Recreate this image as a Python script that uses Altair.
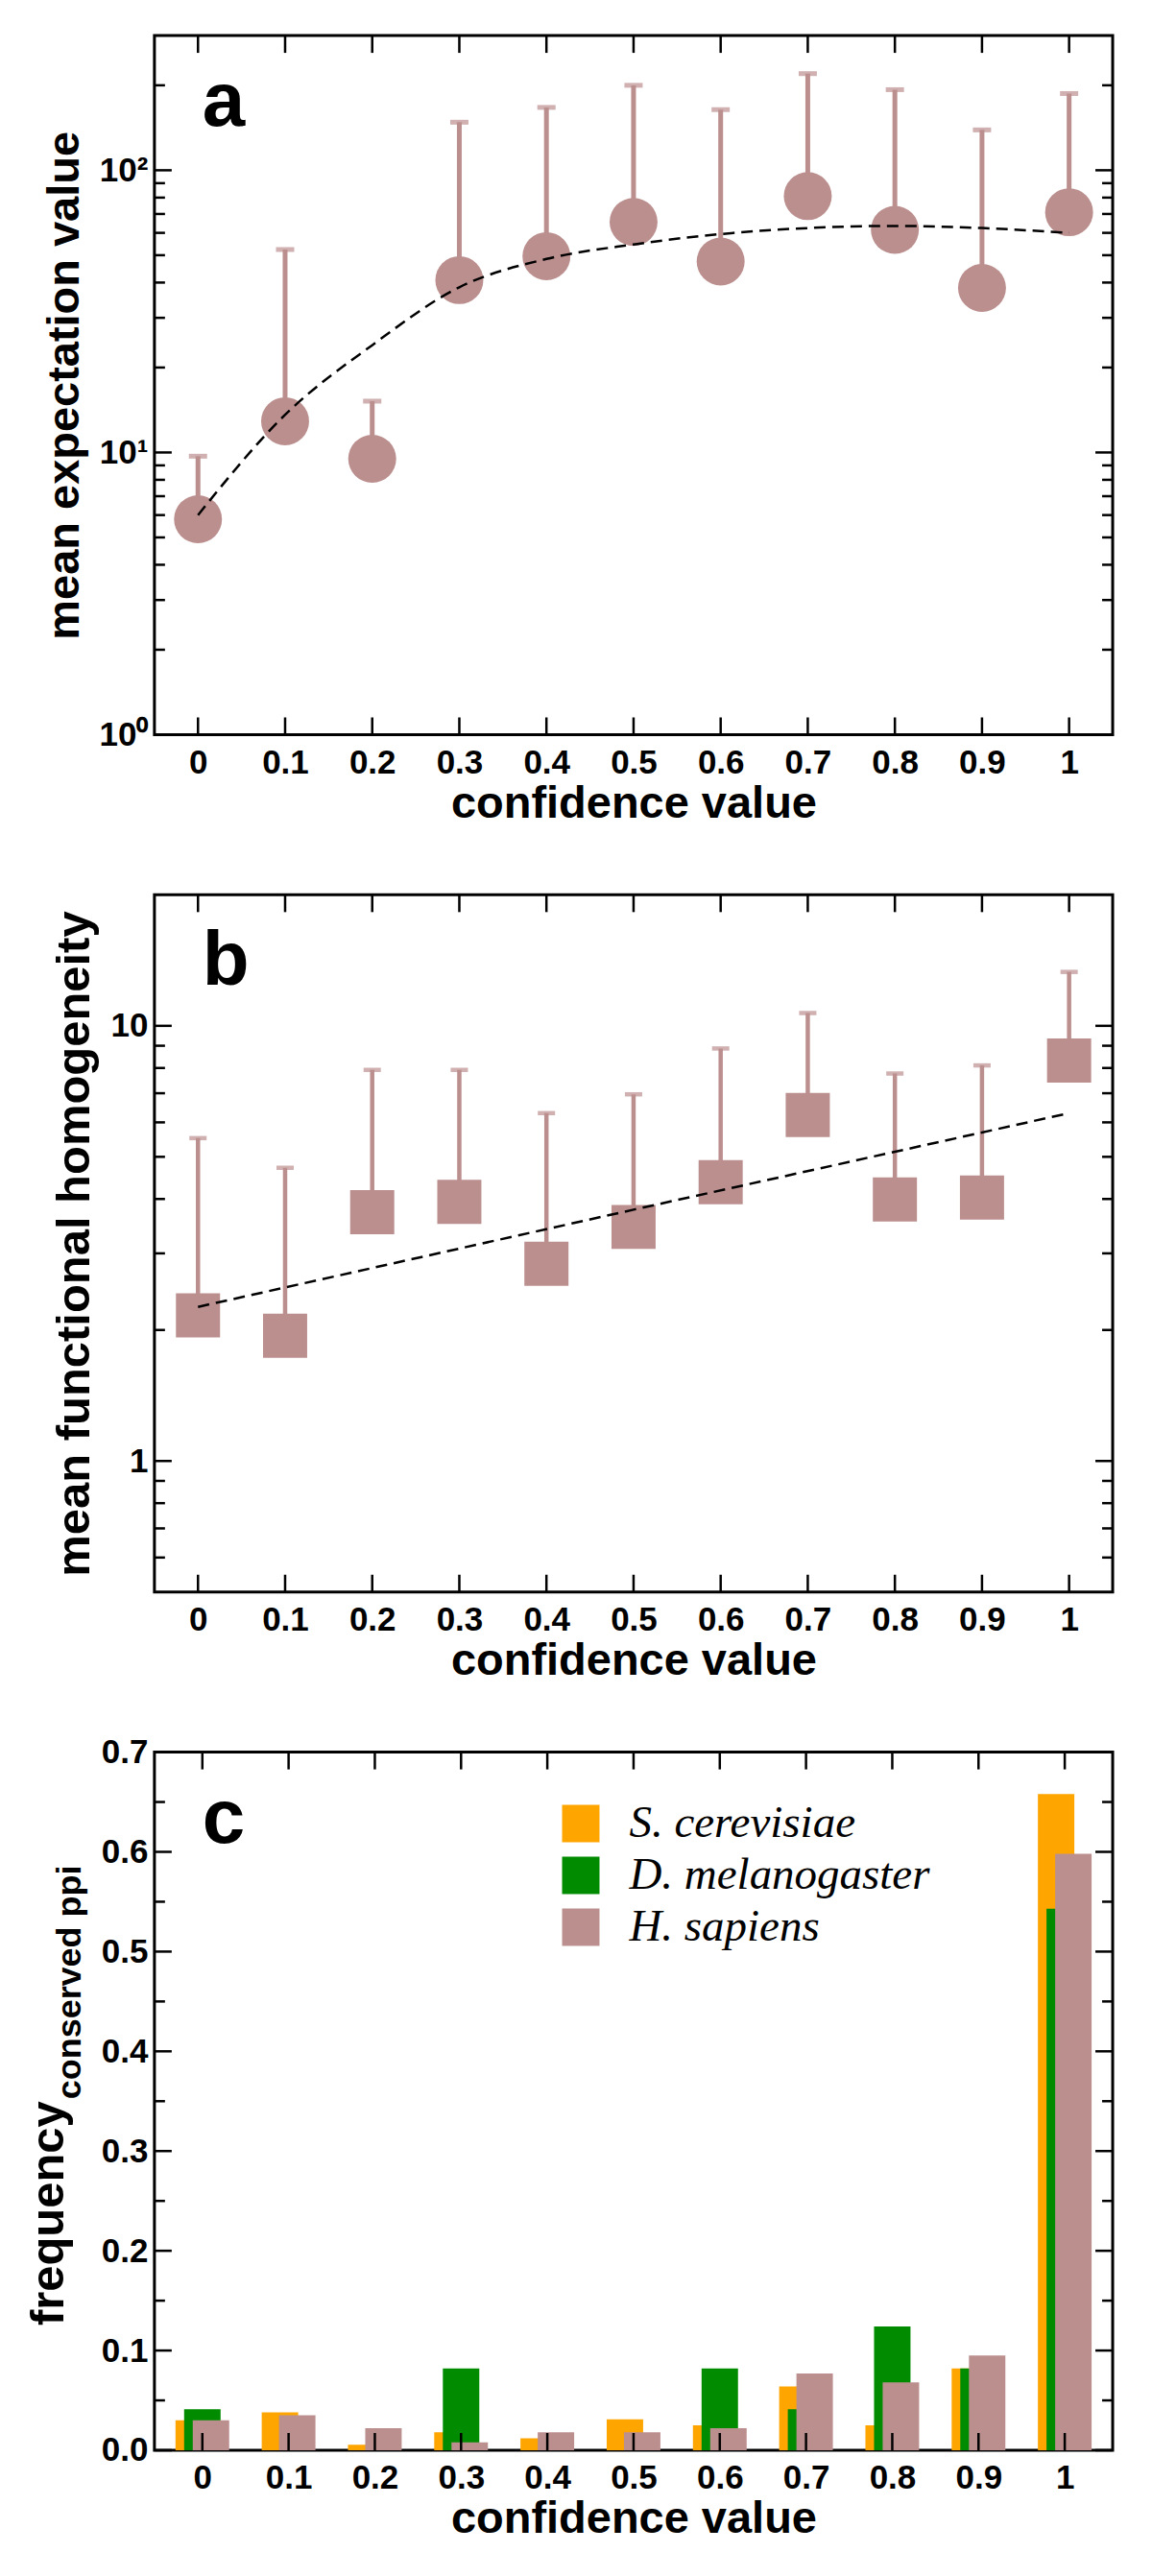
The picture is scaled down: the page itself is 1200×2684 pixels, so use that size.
import altair as alt
import pandas as pd

# ---------------- data ----------------
conf = [0.0, 0.1, 0.2, 0.3, 0.4, 0.5, 0.6, 0.7, 0.8, 0.9, 1.0]

# panel a
mean_a = [5.8, 12.9, 9.5, 40.8, 49.6, 65.6, 47.5, 81.0, 61.5, 38.3, 71.0]
upper_a = [9.7, 52.4, 15.2, 148.0, 167.0, 200.0, 164.0, 220.0, 193.0, 139.0, 187.0]
fit_a = [6.0, 13.6, 24.0, 38.5, 48.5, 54.6, 59.4, 62.4, 63.5, 62.4, 60.0]

# panel b
mean_b = [2.16, 1.94, 3.73, 3.94, 2.84, 3.45, 4.37, 6.24, 3.99, 4.03, 8.32]
upper_b = [5.52, 4.72, 7.92, 7.92, 6.3, 6.96, 8.87, 10.7, 7.77, 8.11, 13.3]
fit_b_x = [0.0, 0.5, 1.0]
fit_b = [2.26, 3.78, 6.3]

# panel c
species = ["S. cerevisiae", "D. melanogaster", "H. sapiens"]
freq_s = [0.030, 0.038, 0.0055, 0.018, 0.012, 0.031, 0.025, 0.064, 0.025, 0.082, 0.658]
freq_d = [0.041, 0.0, 0.0, 0.082, 0.0, 0.0, 0.082, 0.041, 0.124, 0.082, 0.543]
freq_h = [0.030, 0.035, 0.022, 0.008, 0.018, 0.018, 0.022, 0.077, 0.068, 0.095, 0.598]

# ticks
x_major = conf
a_major = [1, 10, 100]
a_minor = [2, 3, 4, 5, 6, 7, 8, 9, 20, 30, 40, 50, 60, 70, 80, 90, 200]
b_major = [1, 10]
b_minor = [0.6, 0.7, 0.8, 0.9, 2, 3, 4, 5, 6, 7, 8, 9]
c_major = [0.0, 0.1, 0.2, 0.3, 0.4, 0.5, 0.6, 0.7]
c_minor = [0.05, 0.15, 0.25, 0.35, 0.45, 0.55, 0.65]

# ---------------- style ----------------
ROSY = "#BC8F8F"
ORANGE = "#FFA500"
GREEN = "#008B00"
FONT = "Liberation Sans"
W = 999
HA, HB, HC = 729, 727, 728
MAJ, MIN, TW = 18, 11, 2.5
DASH = [12, 7]

xscale = alt.Scale(domain=[-0.05, 1.05], nice=False, zero=False)

x_axis = alt.Axis(
    values=x_major,
    labelExpr="datum.value == 0 ? '0' : datum.value == 1 ? '1' : format(datum.value, '.1f')",
    title="confidence value", ticks=False, domain=False, grid=False,
    labelFont=FONT, labelFontSize=35, labelFontWeight="bold", labelColor="black",
    labelPadding=12, labelFlush=False, labelOverlap=False,
    titleFont=FONT, titleFontSize=47, titleFontWeight="bold", titleColor="black",
    titlePadding=2,
)


def y_axis(values, title, expr=None, fmt=None, tsize=47):
    kw = dict(values=values, ticks=False, domain=False, grid=False,
              labelFont=FONT, labelFontSize=35, labelFontWeight="bold",
              labelColor="black", labelPadding=7, labelOverlap=False,
              labelFlush=False,
              titleFont=FONT, titleFontSize=tsize, titleFontWeight="bold",
              titleColor="black", titlePadding=12, title=title)
    if expr:
        kw["labelExpr"] = expr
    if fmt:
        kw["format"] = fmt
    return alt.Axis(**kw)


def frame_ticks(H, yscale, yax, ymaj, ymin):
    out = []
    dx = pd.DataFrame({"v": x_major})
    rule = dict(color="black", strokeWidth=TW)
    out.append(alt.Chart(dx).mark_rule(**rule).encode(
        x=alt.X("v:Q", scale=xscale, axis=x_axis), y=alt.value(H), y2=alt.value(H - MAJ)))
    out.append(alt.Chart(dx).mark_rule(**rule).encode(
        x=alt.X("v:Q", scale=xscale, axis=x_axis), y=alt.value(0), y2=alt.value(MAJ)))
    for vals, L in [(ymaj, MAJ), (ymin, MIN)]:
        dy = pd.DataFrame({"v": vals})
        out.append(alt.Chart(dy).mark_rule(**rule).encode(
            y=alt.Y("v:Q", scale=yscale, axis=yax), x=alt.value(0), x2=alt.value(L)))
        out.append(alt.Chart(dy).mark_rule(**rule).encode(
            y=alt.Y("v:Q", scale=yscale, axis=yax), x=alt.value(W), x2=alt.value(W - L)))
    return out


def panel_label(letter):
    return alt.Chart(pd.DataFrame({"t": [letter]})).mark_text(
        font=FONT, fontSize=80, fontWeight="bold", color="black",
        align="left", baseline="alphabetic").encode(
        text="t:N", x=alt.value(50), y=alt.value(94))


# ---------------- panel a ----------------
ya = alt.Scale(type="log", domain=[1, 300], nice=False)
yax_a = y_axis(a_major, "mean expectation value",
               expr="datum.value == 1 ? '10⁰' : datum.value == 10 ? '10¹' : '10²'")
da = pd.DataFrame({"conf": conf, "mean": mean_a, "upper": upper_a, "fit": fit_a})
Xa = alt.X("conf:Q", scale=xscale, axis=x_axis)
err_a = alt.Chart(da).mark_rule(color=ROSY, strokeWidth=5).encode(
    x=Xa, y=alt.Y("mean:Q", scale=ya, axis=yax_a), y2="upper:Q")
cap_a = alt.Chart(da).mark_tick(color=ROSY, orient="horizontal", size=19, thickness=5).encode(
    x=Xa, y=alt.Y("upper:Q", scale=ya, axis=yax_a))
pts_a = alt.Chart(da).mark_circle(color=ROSY, size=2500, opacity=1).encode(
    x=Xa, y=alt.Y("mean:Q", scale=ya, axis=yax_a))
fit_line_a = alt.Chart(da).mark_line(color="black", strokeWidth=2.5, strokeDash=DASH,
                                     interpolate="monotone").encode(
    x=Xa, y=alt.Y("fit:Q", scale=ya, axis=yax_a))
pa = alt.layer(err_a, cap_a, pts_a, fit_line_a, *frame_ticks(HA, ya, yax_a, a_major, a_minor),
               panel_label("a")).properties(width=W, height=HA)

# ---------------- panel b ----------------
yb = alt.Scale(type="log", domain=[0.5, 20], nice=False)
yax_b = y_axis(b_major, "mean functional homogeneity", fmt="d", tsize=49)
db = pd.DataFrame({"conf": conf, "mean": mean_b, "upper": upper_b})
dbf = pd.DataFrame({"conf": fit_b_x, "fit": fit_b})
err_b = alt.Chart(db).mark_rule(color=ROSY, strokeWidth=4.5).encode(
    x=Xa, y=alt.Y("mean:Q", scale=yb, axis=yax_b), y2="upper:Q")
cap_b = alt.Chart(db).mark_tick(color=ROSY, orient="horizontal", size=18, thickness=4.5).encode(
    x=Xa, y=alt.Y("upper:Q", scale=yb, axis=yax_b))
pts_b = alt.Chart(db).mark_square(color=ROSY, size=2116, opacity=1).encode(
    x=Xa, y=alt.Y("mean:Q", scale=yb, axis=yax_b))
fit_line_b = alt.Chart(dbf).mark_line(color="black", strokeWidth=2.5, strokeDash=DASH).encode(
    x=Xa, y=alt.Y("fit:Q", scale=yb, axis=yax_b))
pb = alt.layer(err_b, cap_b, pts_b, fit_line_b, *frame_ticks(HB, yb, yax_b, b_major, b_minor),
               panel_label("b")).properties(width=W, height=HB)

# ---------------- panel c ----------------
yc = alt.Scale(domain=[0, 0.7], nice=False, zero=False)
yax_c = y_axis(c_major, None, fmt=".1f")
color_scale = alt.Scale(domain=species, range=[ORANGE, GREEN, ROSY])
legend = alt.Legend(
    title=None, orient="none", legendX=421, legendY=51, padding=0,
    symbolType="square", symbolSize=1521, symbolStrokeWidth=0, symbolOpacity=1,
    labelFont="Liberation Serif", labelFontStyle="italic", labelFontWeight="normal",
    labelFontSize=47, labelColor="black", labelOffset=27, rowPadding=6,
    labelLimit=600)

bar_layers = []
for sp, vals, off in zip(species, [freq_s, freq_d, freq_h], [-9, 0, 9]):
    d = pd.DataFrame({"conf": conf, "freq": vals, "species": [sp] * len(conf)})
    bar_layers.append(alt.Chart(d).mark_bar(width=38, xOffset=off, opacity=1).encode(
        x=Xa,
        y=alt.Y("freq:Q", scale=yc, axis=yax_c),
        color=alt.Color("species:N", scale=color_scale, legend=legend),
    ))

ytitle_c = alt.Chart(pd.DataFrame({"t": ["frequency"]})).mark_text(
    font=FONT, fontSize=49, fontWeight="bold", color="black", angle=270,
    align="left", baseline="alphabetic").encode(
    text="t:N", x=alt.value(-95), y=alt.value(598))
ysub_c = alt.Chart(pd.DataFrame({"t": ["conserved ppi"]})).mark_text(
    font=FONT, fontSize=36, fontWeight="bold", color="black", angle=270,
    align="left", baseline="alphabetic").encode(
    text="t:N", x=alt.value(-77), y=alt.value(362))

pc = alt.layer(*bar_layers, *frame_ticks(HC, yc, yax_c, c_major, c_minor), panel_label("c"),
               ytitle_c, ysub_c).properties(width=W, height=HC)

chart = alt.vconcat(pa, pb, pc, spacing=167, bounds="flush").resolve_scale(
    color="independent").resolve_legend(color="independent").properties(
    padding={"left": 17, "top": 25, "right": 30, "bottom": 20}
).configure_view(stroke="black", strokeWidth=3)

chart.save("out.html", embed_options={"renderer": "svg", "actions": False})
